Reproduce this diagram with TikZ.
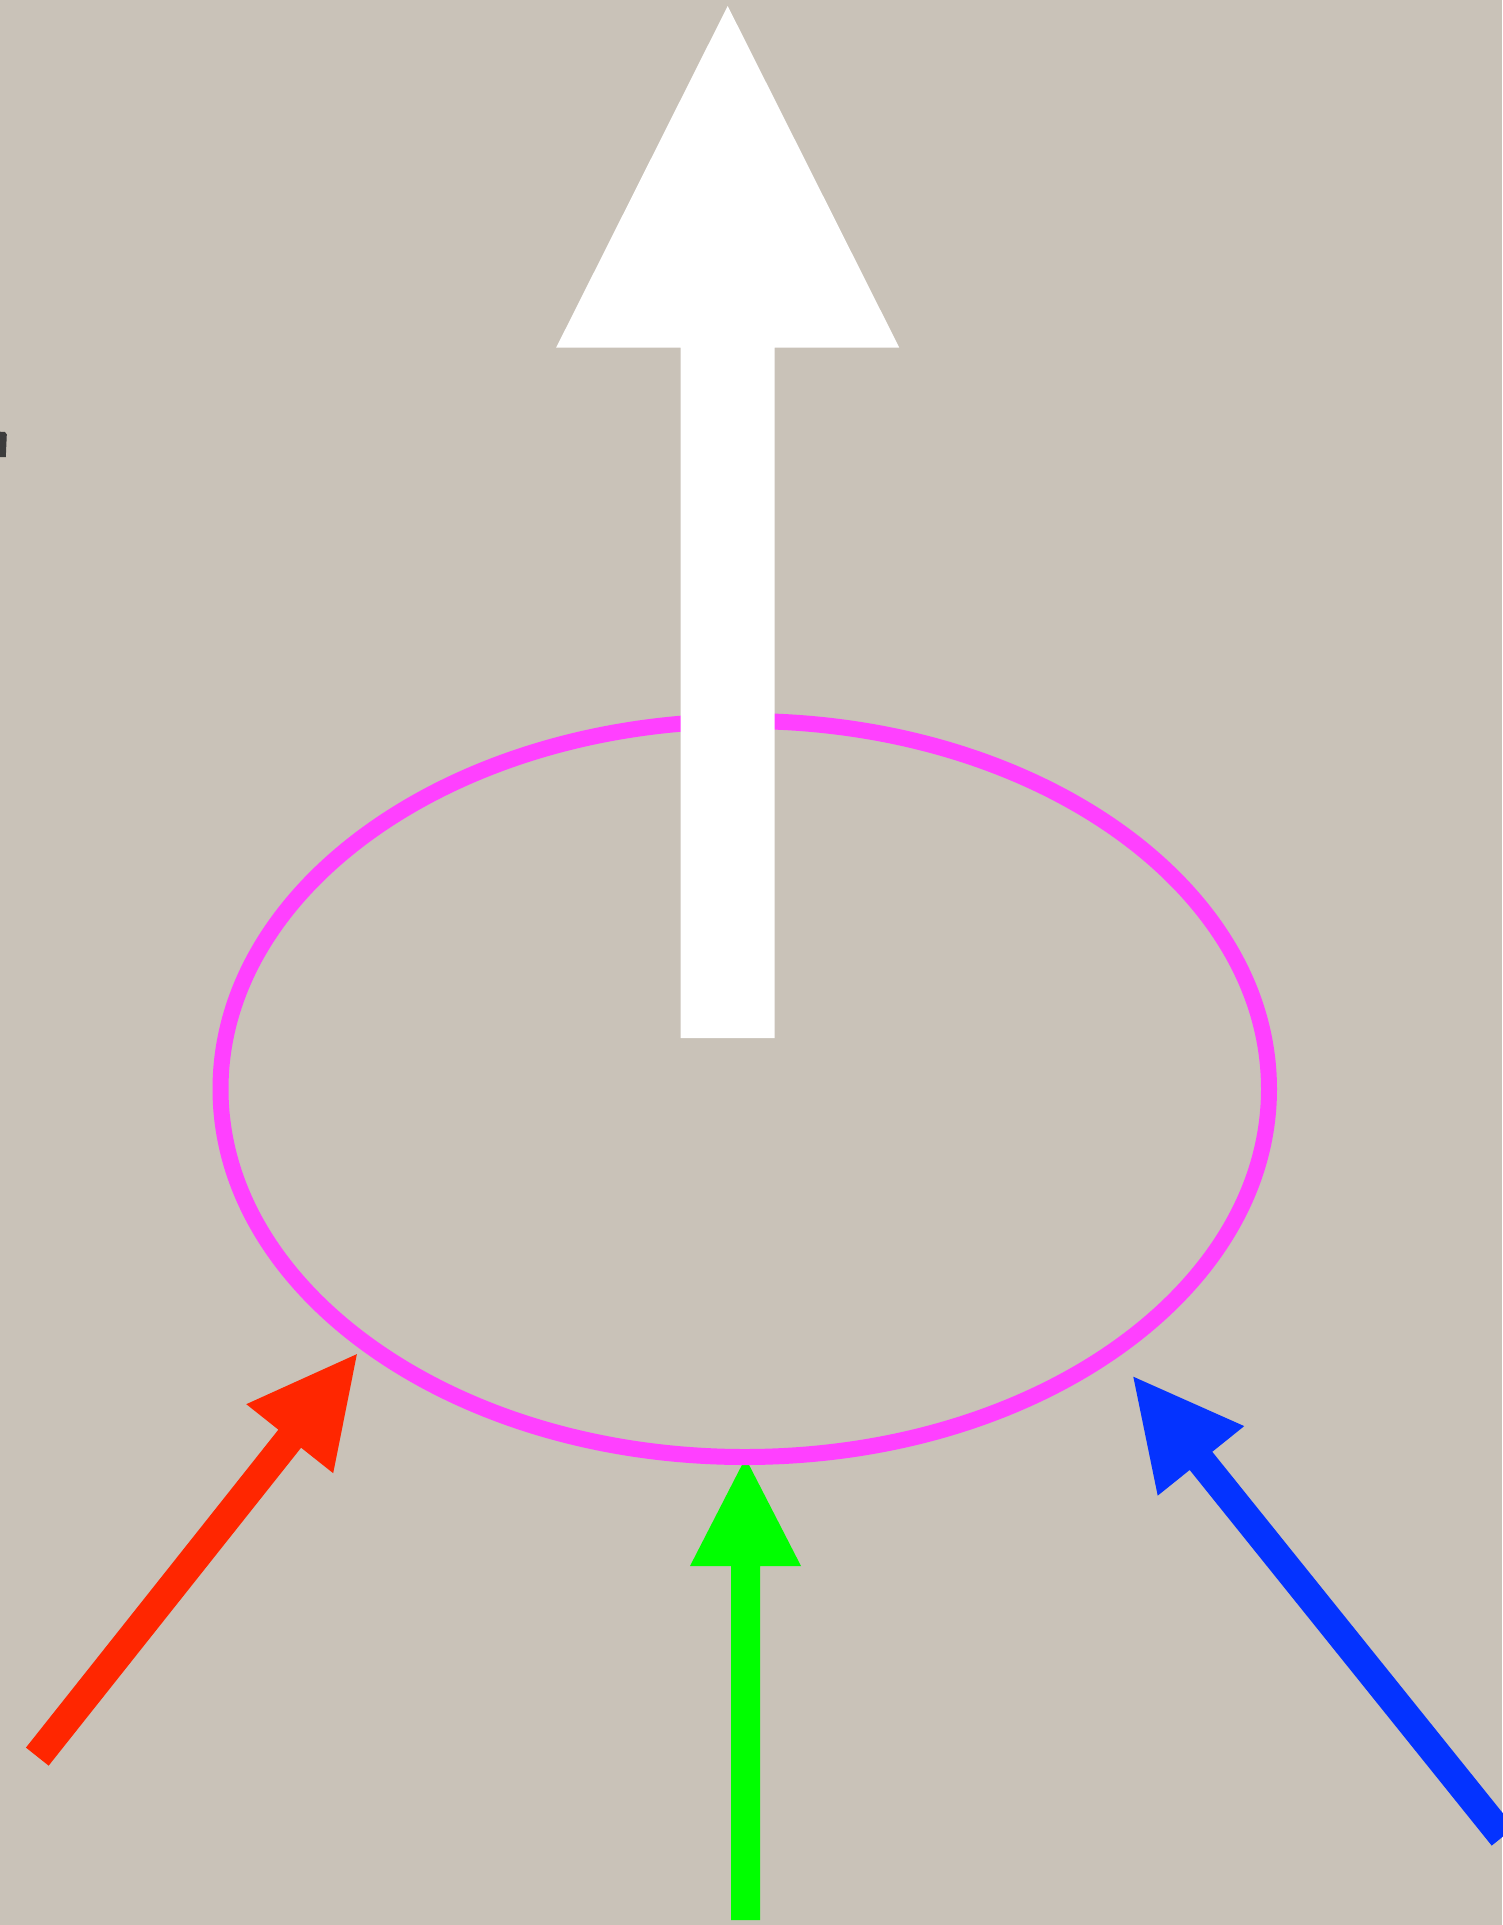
\documentclass[tikz,border=0pt]{standalone}
\usetikzlibrary{calc}
\definecolor{bgc}{RGB}{201,194,184}
\definecolor{magc}{RGB}{255,64,255}
\definecolor{redc}{RGB}{255,38,0}
\definecolor{grnc}{RGB}{0,255,0}
\definecolor{bluc}{RGB}{4,51,255}
\definecolor{markc}{RGB}{60,60,60}
% #1 colour, #2 tail, #3 tip, #4 half shaft width, #5 head length, #6 half head width
\newcommand{\fatarrow}[6]{%
  \fill[#1] (#3)
    -- ($($(#3)!#5!(#2)$)!#6!90:(#3)$)
    -- ($($(#3)!#5!(#2)$)!#4!90:(#3)$)
    -- ($(#2)!#4!90:(#3)$)
    -- ($(#2)!#4!-90:(#3)$)
    -- ($($(#3)!#5!(#2)$)!#4!-90:(#3)$)
    -- ($($(#3)!#5!(#2)$)!#6!-90:(#3)$)
    -- cycle;}
\tikzset{ring/.style={draw=magc,line width=16pt}}
\begin{document}
\begin{tikzpicture}[x=1pt,y=-1pt]
\fill[bgc] (0,0) rectangle (1502,1925);
\useasboundingbox (0,0) rectangle (1502,1925);
% small dark mark at left edge
\fill[markc] (0,431.7) -- (5,432) -- (6.8,434.5) -- (5.8,457) -- (0,457) -- cycle;
% named end points
\coordinate (redtail) at (37.3,1756.6);
\coordinate (redtip) at (356.9,1354.1);
\coordinate (grntail) at (745.5,1920);
\coordinate (grntip) at (745.5,1458);
\coordinate (blutail) at (1503,1836.5);
\coordinate (blutip) at (1133.3,1376.7);
\coordinate (whttail) at (727.7,1038);
\coordinate (whttip) at (727.7,6);
% coloured arrows
\fatarrow{redc}{redtail}{redtip}{14.5pt}{108pt}{55.5pt}
\fatarrow{grnc}{grntail}{grntip}{14.5pt}{108pt}{55.5pt}
\fatarrow{bluc}{blutail}{blutip}{14.5pt}{108pt}{55.5pt}
% ellipse
\node[coordinate] (ringc) at (744.75,1089) {};
\draw[ring] (ringc) ellipse [x radius=524.25pt, y radius=368pt];
% white arrow
\fatarrow{white}{whttail}{whttip}{47pt}{341.5pt}{171.5pt}
\end{tikzpicture}
\end{document}
